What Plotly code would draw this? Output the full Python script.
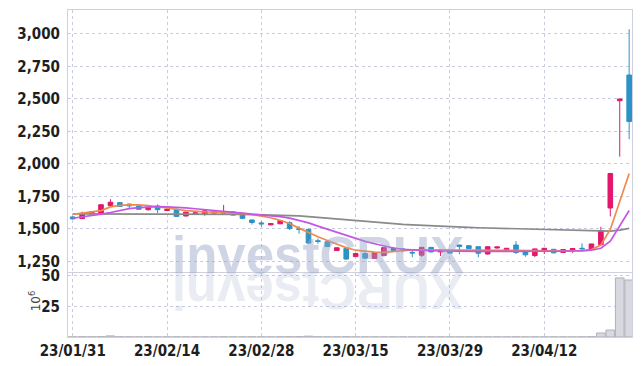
import plotly.graph_objects as go
from plotly.subplots import make_subplots

dates = ["23/01/31","23/02/01","23/02/02","23/02/03","23/02/06","23/02/07","23/02/08","23/02/09","23/02/10","23/02/13",
         "23/02/14","23/02/15","23/02/16","23/02/17","23/02/20","23/02/21","23/02/22","23/02/23","23/02/24","23/02/27",
         "23/02/28","23/03/02","23/03/03","23/03/06","23/03/07","23/03/08","23/03/09","23/03/10","23/03/13","23/03/14",
         "23/03/15","23/03/16","23/03/17","23/03/20","23/03/21","23/03/22","23/03/23","23/03/24","23/03/27","23/03/28",
         "23/03/29","23/03/30","23/03/31","23/04/03","23/04/04","23/04/05","23/04/06","23/04/07","23/04/10","23/04/11",
         "23/04/12","23/04/13","23/04/14","23/04/17","23/04/18","23/04/19","23/04/20","23/04/21","23/04/24","23/04/25"]

opens = [1591,1578,1616,1619,1678,1701,1690,1675,1647,1675,
         1640,1650,1598,1614,1614,1638,1620,1630,1612,1568,
         1545,1530,1538,1547,1500,1496,1408,1400,1332,1350,
         1286,1310,1272,1295,1350,1345,1318,1297,1357,1322,
         1335,1375,1370,1362,1306,1352,1338,1375,1325,1294,
         1325,1342,1318,1338,1350,1343,1378,1660,2485,2683]
highs = [1596,1631,1635,1688,1727,1706,1693,1679,1672,1688,
         1656,1655,1631,1626,1650,1641,1683,1632,1615,1570,
         1558,1543,1564,1558,1520,1498,1425,1402,1356,1352,
         1312,1318,1320,1357,1360,1352,1332,1360,1360,1339,
         1337,1377,1372,1364,1364,1362,1352,1405,1327,1347,
         1352,1344,1342,1352,1388,1385,1516,1930,2500,3035]
lows = [1572,1575,1612,1616,1670,1668,1660,1648,1640,1620,
        1636,1590,1596,1612,1600,1617,1615,1602,1576,1532,
        1516,1527,1536,1490,1462,1385,1385,1360,1329,1262,
        1284,1270,1268,1293,1326,1320,1281,1285,1318,1291,
        1308,1305,1343,1281,1303,1348,1335,1305,1285,1282,
        1306,1311,1316,1315,1338,1341,1375,1595,2055,2190]
closes = [1576,1619,1631,1685,1704,1672,1676,1650,1668,1647,
          1650,1595,1628,1622,1638,1620,1633,1605,1580,1548,
          1538,1540,1562,1502,1495,1390,1402,1363,1354,1267,
          1310,1274,1315,1355,1333,1338,1314,1357,1322,1337,
          1313,1364,1347,1312,1362,1360,1350,1318,1300,1345,
          1350,1315,1340,1348,1346,1383,1485,1925,2498,2325]

ma_short = [1611,1620,1630,1640,1668,1680,1684,1684,1678,1670,
            1660,1650,1640,1634,1630,1628,1626,1622,1617,1610,
            1600,1585,1565,1540,1505,1470,1438,1410,1382,1355,
            1335,1326,1320,1318,1325,1335,1337,1337,1337,1336,
            1334,1333,1333,1333,1333,1333,1333,1333,1332,1332,
            1330,1330,1330,1331,1333,1340,1375,1495,1710,1925]
ma_mid = [1581,1590,1600,1612,1625,1640,1655,1662,1667,1670,
          1669,1666,1660,1654,1648,1641,1634,1627,1620,1612,
          1606,1600,1594,1582,1566,1545,1520,1497,1472,1447,
          1424,1403,1385,1366,1352,1341,1336,1333,1331,1329,
          1327,1326,1326,1326,1326,1327,1327,1327,1327,1327,
          1327,1327,1327,1328,1330,1335,1350,1405,1520,1640]
ma_long = [1615,1615,1615,1615,1615,1615,1615,1614,1614,1614,
           1614,1613,1613,1613,1612,1612,1611,1611,1610,1609,
           1608,1607,1605,1603,1599,1593,1587,1580,1573,1566,
           1559,1553,1548,1543,1538,1534,1530,1526,1522,1518,
           1514,1512,1510,1508,1506,1504,1502,1500,1498,1496,
           1494,1492,1490,1488,1486,1484,1482,1482,1490,1503]

volume_m = [0.15,0.2,0.15,0.3,0.9,0.2,0.15,0.1,0.15,0.1,
            0.1,0.15,0.1,0.1,0.1,0.1,0.15,0.1,0.1,0.15,
            0.15,0.1,0.15,0.2,0.3,0.7,0.2,0.15,0.15,0.2,
            0.1,0.1,0.1,0.1,0.1,0.1,0.1,0.1,0.1,0.1,
            0.1,0.1,0.1,0.1,0.1,0.1,0.1,0.15,0.1,0.1,
            0.1,0.1,0.1,0.1,0.15,0.2,3.3,5.7,48.4,46.7]

price_ticks = [1250, 1500, 1750, 2000, 2250, 2500, 2750, 3000]
volume_ticks = [25, 50]
tick_dates = [dates[i] for i in (0, 10, 20, 30, 40, 50)]

RED = "#e3176b"
BLUE = "#2b93c6"
GRID = "#c9cce0"
FRAME = "#cfd1de"
TICKFONT = dict(family="Liberation Sans Narrow, DejaVu Sans Condensed, Roboto Condensed, sans-serif",
                size=15, color="#1e1e1e", weight="bold")

fig = make_subplots(rows=2, cols=1, shared_xaxes=True, vertical_spacing=0)

fig.add_trace(go.Candlestick(
    x=dates, open=opens, high=highs, low=lows, close=closes,
    increasing=dict(line=dict(color=RED, width=1), fillcolor=RED),
    decreasing=dict(line=dict(color=BLUE, width=1), fillcolor=BLUE),
    whiskerwidth=0, showlegend=False, hoverinfo="skip"), row=1, col=1)
fig.add_trace(go.Scatter(x=dates, y=ma_long, mode="lines", line=dict(color="#8a8a8a", width=1.7),
                         showlegend=False, hoverinfo="skip"), row=1, col=1)
fig.add_trace(go.Scatter(x=dates, y=ma_short, mode="lines", line=dict(color="#ef8a4e", width=1.7),
                         showlegend=False, hoverinfo="skip"), row=1, col=1)
fig.add_trace(go.Scatter(x=dates, y=ma_mid, mode="lines", line=dict(color="#c256e6", width=1.7),
                         showlegend=False, hoverinfo="skip"), row=1, col=1)
fig.add_trace(go.Bar(x=dates, y=volume_m, marker=dict(color="#d8d8e0", line=dict(color="#b0b0bc", width=1)),
                     showlegend=False, hoverinfo="skip"), row=2, col=1)

axis_common = dict(showgrid=True, gridcolor=GRID, griddash="dot", gridwidth=1,
                   showline=True, mirror=True, linecolor=FRAME, linewidth=1,
                   zeroline=False, ticks="", tickfont=TICKFONT, automargin=False)

fig.update_layout(
    width=642, height=366,
    margin=dict(l=68, r=10, t=10, b=29),
    paper_bgcolor="white", plot_bgcolor="white",
    bargap=0.08, showlegend=False,
    xaxis=dict(type="category", range=[-0.5, 59.3], rangeslider=dict(visible=False),
               tickvals=tick_dates, showticklabels=False, **axis_common),
    xaxis2=dict(type="category", range=[-0.5, 59.3], rangeslider=dict(visible=False),
                tickvals=tick_dates, ticktext=tick_dates, **axis_common),
    yaxis=dict(domain=[0.199, 1.0], range=[1168, 3183], tickvals=price_ticks, tickformat=",",
               ticklabelstandoff=4, **axis_common),
    yaxis2=dict(domain=[0.0, 0.196], range=[0, 52.5], tickvals=volume_ticks,
                ticklabelstandoff=4, **axis_common),
)

# volume unit label
fig.add_annotation(text="10<sup>6</sup>", xref="paper", yref="paper", x=-0.058, y=0.11,
                   xanchor="center", yanchor="middle",
                   textangle=-90, showarrow=False, font=dict(family="DejaVu Sans", size=12, color="#444"))

# watermark and its faint reflection
WM = "investCRUX"
fig.add_annotation(text=WM, xref="paper", yref="paper", x=0.443, y=0.25, xanchor="center", yanchor="middle",
                   showarrow=False,
                   font=dict(family="Liberation Sans, Arial, sans-serif", size=51,
                             color="rgba(150,162,200,0.45)", weight="bold"))
fig.add_annotation(text=WM[::-1], xref="paper", yref="paper", x=0.443, y=0.142, xanchor="center", yanchor="middle",
                   showarrow=False, textangle=180,
                   font=dict(family="Liberation Sans, Arial, sans-serif", size=51,
                             color="rgba(150,162,200,0.2)", weight="bold"))

fig.write_html("out.html", config={"displayModeBar": False},
               post_script="document.body.style.margin='0';document.body.style.overflow='hidden';")
